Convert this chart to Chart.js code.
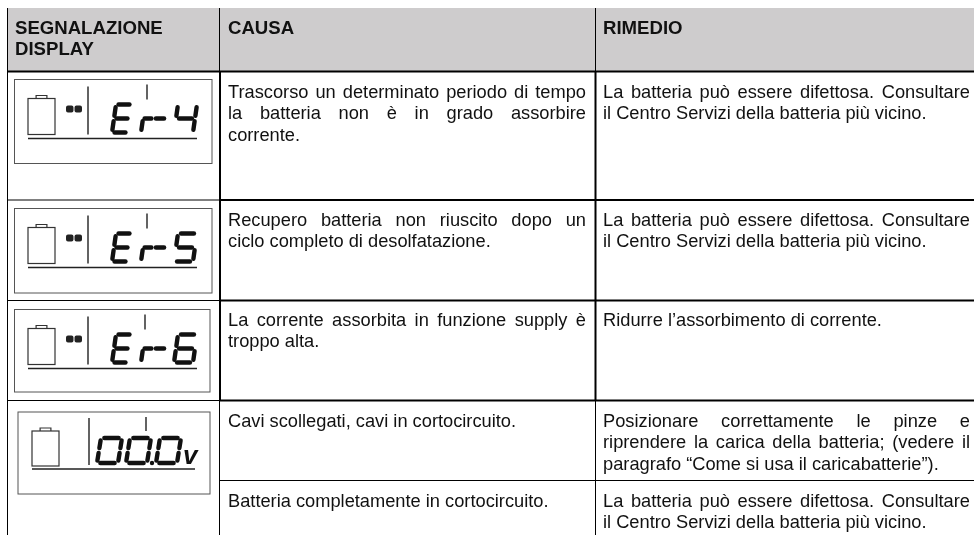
<!DOCTYPE html>
<html>
<head>
<meta charset="utf-8">
<title>Segnalazione display</title>
<script src="https://cdn.jsdelivr.net/npm/chart.js@4"></script>
<style>
    html, body { margin: 0; padding: 0; background: #fff; }
    canvas { display: block; }
</style>
</head>
<body>
<canvas id="tableChart" width="974" height="535"></canvas>
<script>
// ==========================================
// TABLE CONTENT
// ==========================================

const headers = [['SEGNALAZIONE', 'DISPLAY'], ['CAUSA'], ['RIMEDIO']];

const causes = [
    ['Trascorso un determinato periodo di tempo', 'la batteria non è in grado assorbire', 'corrente.'],
    ['Recupero batteria non riuscito dopo un', 'ciclo completo di desolfatazione.'],
    ['La corrente assorbita in funzione supply è', 'troppo alta.'],
    ['Cavi scollegati, cavi in cortocircuito.'],
    ['Batteria completamente in cortocircuito.']
];

const remedies = [
    ['La batteria può essere difettosa. Consultare', 'il Centro Servizi della batteria più vicino.'],
    ['La batteria può essere difettosa. Consultare', 'il Centro Servizi della batteria più vicino.'],
    ['Ridurre l’assorbimento di corrente.'],
    ['Posizionare correttamente le pinze e', 'riprendere la carica della batteria; (vedere il', 'paragrafo “Come si usa il caricabatterie”).'],
    ['La batteria può essere difettosa. Consultare', 'il Centro Servizi della batteria più vicino.']
];

// Which text lines stretch to the full column width
const causeJustified = [[true, true, false], [true, false], [true, false], [false], [false]];
const remedyJustified = [[true, false], [true, false], [false], [true, true, false], [true, false]];

const displayCodes = ['Er-4', 'Er-5', 'Er-6', '00.0v'];

// Grid of the table, in page units
const columnEdges = [7.5, 220, 595.5, 974];
const rowEdges = [71.5, 200, 300.5, 400.5];
const subRowEdge = 480.5;
const tableTop = 8;
const tableBottom = 535;
const rowTextTops = [98, 226, 326, 427, 507];

// Display panels: left, top, right, bottom
const displayLeft = [14.5, 14.5, 14.5, 18];
const displayTop = [79.5, 208.5, 309.5, 412];
const displayRight = [212, 212, 210, 210];
const displayBottom = [163.5, 293, 392, 494];

// ==========================================
// DRAWING HELPERS
// ==========================================

const TEXT_FONT = "18.25px 'Liberation Sans', Arial, sans-serif";
const HEAD_FONT = "bold 18.6px 'Liberation Sans', Arial, sans-serif";
const LINE_HEIGHT = 21.4;

// Segments lit for each display character
const SEGMENTS = {
    'E': 'adefg', 'r': 'eg', '-': 'g',
    '0': 'abcdef', '4': 'bcfg', '5': 'acdfg', '6': 'acdefg'
};

function drawTextLine(ctx, text, x, y, width, justified) {
    if (!justified) {
        ctx.fillText(text, x, y);
        return;
    }
    const words = text.split(' ');
    const total = words.reduce((sum, w) => sum + ctx.measureText(w).width, 0);
    const gap = (width - total) / (words.length - 1);
    let cursor = x;
    words.forEach(word => {
        ctx.fillText(word, cursor, y);
        cursor += ctx.measureText(word).width + gap;
    });
}

function drawDigit(ctx, ch, x, y, w, h) {
    const lit = SEGMENTS[ch] || '';
    const slant = 4;
    const px = (u, v) => [x + u * w + (1 - v) * slant, y + v * h];
    const parts = {
        a: [[0.16, 0], [0.84, 0]],
        b: [[1, 0.1], [1, 0.4]],
        c: [[1, 0.6], [1, 0.9]],
        d: [[0.16, 1], [0.84, 1]],
        e: [[0, 0.6], [0, 0.9]],
        f: [[0, 0.1], [0, 0.4]],
        g: [[0.16, 0.5], [0.84, 0.5]]
    };
    ctx.lineCap = 'round';
    ctx.lineWidth = 4.4;
    ctx.strokeStyle = '#111';
    for (const key of lit) {
        const [a, b] = parts[key];
        ctx.beginPath();
        ctx.moveTo(...px(a[0], a[1]));
        ctx.lineTo(...px(b[0], b[1]));
        ctx.stroke();
    }
}

function drawBattery(ctx, x, y, w, h) {
    ctx.strokeStyle = '#333';
    ctx.lineWidth = 1.2;
    ctx.strokeRect(x, y + 3, w, h - 3);
    ctx.beginPath();
    ctx.moveTo(x + w * 0.3, y + 3);
    ctx.lineTo(x + w * 0.3, y);
    ctx.lineTo(x + w * 0.7, y);
    ctx.lineTo(x + w * 0.7, y + 3);
    ctx.stroke();
}

function drawPanel(ctx, index, sx, sy) {
    const left = sx(displayLeft[index]);
    const top = sy(displayTop[index]);
    const right = sx(displayRight[index]);
    const bottom = sy(displayBottom[index]);
    const isVolt = index === 3;
    const dy = top + 16;
    const dx = left + 13.5 + (isVolt ? 0.5 : 0);

    ctx.save();
    ctx.filter = 'blur(0.5px)';
    ctx.strokeStyle = '#555';
    ctx.lineWidth = 1;
    ctx.strokeRect(left, top, right - left, bottom - top);

    drawBattery(ctx, dx, dy, 27, isVolt ? 38 : 39);

    // small charge blobs, only on the error panels
    if (!isVolt) {
        ctx.fillStyle = '#222';
        ctx.beginPath();
        ctx.roundRect(dx + 38, dy + 10, 7.5, 7, 2);
        ctx.roundRect(dx + 46.5, dy + 10, 7.5, 7, 2);
        ctx.fill();
    }

    // divider, marker tick and underline
    ctx.strokeStyle = '#222';
    ctx.lineWidth = 1.4;
    const barX = dx + (isVolt ? 57 : 60);
    ctx.beginPath();
    ctx.moveTo(barX, top + (isVolt ? 6 : 7));
    ctx.lineTo(barX, dy + (isVolt ? 37 : 39));
    const tickX = dx + (isVolt ? 114 : (index === 2 ? 117 : 119));
    ctx.moveTo(tickX, top + 5);
    ctx.lineTo(tickX, top + (isVolt ? 19 : 20));
    ctx.moveTo(dx, dy + (isVolt ? 41 : 43));
    ctx.lineTo(dx + (isVolt ? 163 : 169), dy + (isVolt ? 41 : 43));
    ctx.stroke();

    // digits
    const code = displayCodes[index];
    if (isVolt) {
        const chars = code.replace('.', '').replace('v', '');
        const digitX = [dx + 65, dx + 94, dx + 124];
        chars.split('').forEach((ch, i) => drawDigit(ctx, ch, digitX[i], dy + 10, 21, 25));
        ctx.fillStyle = '#111';
        ctx.beginPath();
        ctx.arc(dx + 120, dy + 35, 2.2, 0, Math.PI * 2);
        ctx.fill();
        ctx.font = "italic bold 26px 'Liberation Sans', Arial, sans-serif";
        ctx.fillText('v', dx + 151, dy + 36);
    } else {
        const digitX = [dx + 84, dx + 113, dx + 124, dx + 146];
        const digitW = [16, 10, 12, 19];
        code.split('').forEach((ch, i) => drawDigit(ctx, ch, digitX[i], dy + 9, digitW[i], 28));
    }
    ctx.restore();
}

// ==========================================
// TABLE LAYER
// ==========================================

const tablePlugin = {
    id: 'tableLayer',
    beforeDatasetsDraw(chart) {
        const { ctx, scales } = chart;
        const sx = v => scales.x.getPixelForValue(v);
        const sy = v => scales.y.getPixelForValue(v);
        ctx.save();
        ctx.fillStyle = '#cecccd';
        ctx.fillRect(sx(columnEdges[0]), sy(tableTop), sx(columnEdges[3]) - sx(columnEdges[0]), sy(rowEdges[0]) - sy(tableTop));
        ctx.restore();
    },
    afterDatasetsDraw(chart) {
        const { ctx, scales } = chart;
        const sx = v => scales.x.getPixelForValue(v);
        const sy = v => scales.y.getPixelForValue(v);

        ctx.save();
        ctx.fillStyle = '#111';
        ctx.textBaseline = 'alphabetic';
        ctx.filter = 'blur(0.3px)';

        // Header cells
        ctx.font = HEAD_FONT;
        const headX = [15, 228, 603];
        headers.forEach((lines, col) => {
            lines.forEach((line, i) => ctx.fillText(line, sx(headX[col]), sy(34 + i * LINE_HEIGHT)));
        });

        // Body cells
        ctx.font = TEXT_FONT;
        causes.forEach((lines, row) => {
            lines.forEach((line, i) => {
                drawTextLine(ctx, line, sx(228), sy(rowTextTops[row] + i * LINE_HEIGHT), 358, causeJustified[row][i]);
            });
        });
        remedies.forEach((lines, row) => {
            lines.forEach((line, i) => {
                drawTextLine(ctx, line, sx(603), sy(rowTextTops[row] + i * LINE_HEIGHT), 367, remedyJustified[row][i]);
            });
        });
        ctx.restore();

        displayCodes.forEach((code, i) => drawPanel(ctx, i, sx, sy));
    }
};

// ==========================================
// CHART
// ==========================================

function ruleDataset(x1, y1, x2, y2, width) {
    return {
        data: [{ x: x1, y: y1 }, { x: x2, y: y2 }],
        showLine: true,
        borderColor: '#000',
        borderWidth: width,
        pointRadius: 0,
        borderCapStyle: 'butt'
    };
}

const ruleDatasets = [
    ruleDataset(columnEdges[0], tableTop, columnEdges[0], tableBottom, 1),
    ruleDataset(columnEdges[1] - 0.5, tableTop, columnEdges[1] - 0.5, rowEdges[0], 1),
    ruleDataset(columnEdges[1], rowEdges[0], columnEdges[1], rowEdges[3], 2),
    ruleDataset(columnEdges[1] - 0.5, rowEdges[3], columnEdges[1] - 0.5, tableBottom, 1),
    ruleDataset(columnEdges[2], tableTop, columnEdges[2], rowEdges[0], 1),
    ruleDataset(columnEdges[2], rowEdges[0], columnEdges[2], rowEdges[3], 2),
    ruleDataset(columnEdges[2], rowEdges[3], columnEdges[2], tableBottom, 1),
    ruleDataset(columnEdges[0], rowEdges[0], columnEdges[3], rowEdges[0], 2),
    ruleDataset(columnEdges[0], rowEdges[1], columnEdges[1], rowEdges[1], 1),
    ruleDataset(columnEdges[1], rowEdges[1], columnEdges[3], rowEdges[1], 2),
    ruleDataset(columnEdges[0], rowEdges[2], columnEdges[1], rowEdges[2], 1),
    ruleDataset(columnEdges[1], rowEdges[2], columnEdges[3], rowEdges[2], 2),
    ruleDataset(columnEdges[0], rowEdges[3], columnEdges[1], rowEdges[3], 1),
    ruleDataset(columnEdges[1], rowEdges[3], columnEdges[3], rowEdges[3], 2),
    ruleDataset(columnEdges[1], subRowEdge, columnEdges[3], subRowEdge, 1)
];

new Chart(document.getElementById('tableChart'), {
    type: 'scatter',
    data: { datasets: ruleDatasets },
    options: {
        responsive: false,
        animation: false,
        layout: { padding: 0 },
        plugins: { legend: { display: false }, tooltip: { enabled: false } },
        scales: {
            x: { type: 'linear', min: 0, max: 974, display: false },
            y: { type: 'linear', min: 0, max: 535, reverse: true, display: false }
        }
    },
    plugins: [tablePlugin]
});
</script>
</body>
</html>
